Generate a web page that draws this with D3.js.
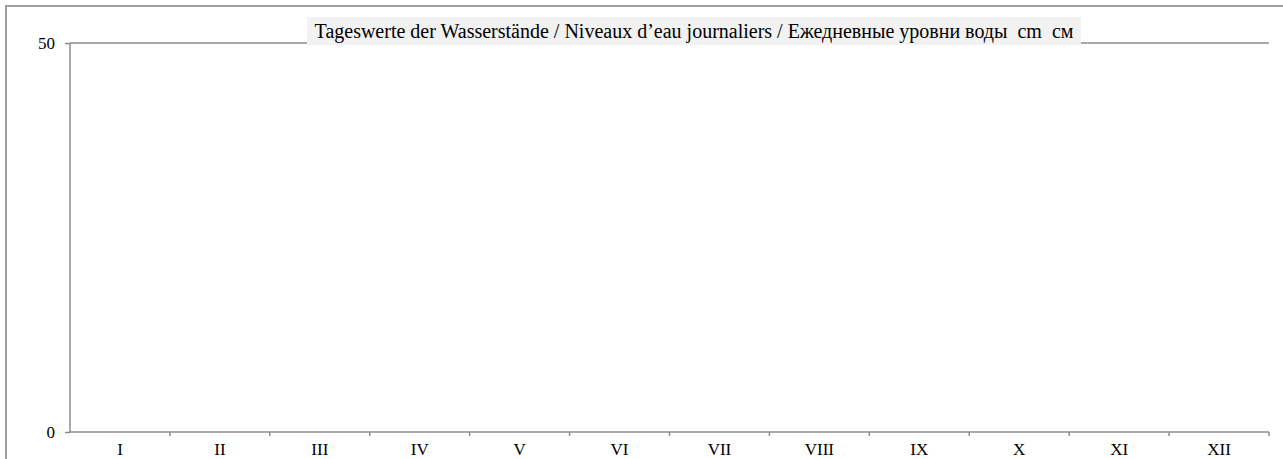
<!DOCTYPE html>
<html><head><meta charset="utf-8">
<script src="https://cdn.jsdelivr.net/npm/d3@7"></script>
<style>
html,body{margin:0;padding:0;background:#fff;}
svg{display:block;font-family:"Liberation Serif","Times New Roman",serif;}
</style></head>
<body>
<svg id="chart" width="1283" height="459"></svg>
<script>
const months = ["I","II","III","IV","V","VI","VII","VIII","IX","X","XI","XII"];
const yTicks = [0, 50];
const yDomain = [0, 50];
const titleText = "Tageswerte der Wasserstände / Niveaux d\u2019eau journaliers / Ежедневные уровни воды  cm  см";
const series = []; // no daily values shown

const svg = d3.select("#chart");
const W = 1283, H = 459;
const m = {left:70, right:1269, top:43, bottom:432};
const FONT = "Liberation Serif, Times New Roman, serif";

// outer frame
svg.append("path")
  .attr("d", `M6,${H+5} L6,6 L${W+5},6`)
  .attr("fill","none").attr("stroke","#a0a0a0").attr("stroke-width",2);

const x = d3.scaleBand().domain(months).range([m.left, m.right]).padding(0);
const y = d3.scaleLinear().domain(yDomain).range([m.bottom, m.top]);

// top grid line at 50
svg.append("g").selectAll("line").data(yTicks.filter(d=>d>0)).join("line")
  .attr("x1", m.left).attr("x2", m.right)
  .attr("y1", d=>y(d)).attr("y2", d=>y(d))
  .attr("stroke","#8c8c8c").attr("stroke-width",1.5);

// y axis
const yAxis = svg.append("g").attr("transform",`translate(${m.left},0)`)
  .call(d3.axisLeft(y).tickValues(yTicks).tickSize(5).tickPadding(10).tickFormat(d3.format("d")));
yAxis.attr("font-family", FONT).attr("font-size", 17);
yAxis.select(".domain").attr("stroke","#8c8c8c").attr("stroke-width",1.5).attr("d",`M0,${m.bottom}V${m.top}`);
yAxis.selectAll(".tick line").attr("stroke","#8c8c8c").attr("stroke-width",1.5);
yAxis.selectAll(".tick text").attr("fill","#000");

// x axis
const xAxis = svg.append("g").attr("transform",`translate(0,${m.bottom})`)
  .call(d3.axisBottom(x).tickSize(0).tickPadding(11));
xAxis.attr("font-family", FONT).attr("font-size", 17);
xAxis.select(".domain").attr("stroke","#8c8c8c").attr("stroke-width",1.5).attr("d",`M${m.left},0H${m.right}`);
xAxis.selectAll(".tick text").attr("fill","#000");
// month boundary ticks
const bounds = months.map(mo => x(mo) + x.bandwidth());
svg.append("g").selectAll("line").data(bounds).join("line")
  .attr("x1", d=>d).attr("x2", d=>d)
  .attr("y1", m.bottom).attr("y2", m.bottom+4)
  .attr("stroke","#8c8c8c").attr("stroke-width",1.5);

// title with background box
const tg = svg.append("g");
tg.append("rect")
  .attr("x", 307).attr("y", 17)
  .attr("width", 1081-307).attr("height", 28)
  .attr("fill","#f2f2f2");
tg.append("text")
  .attr("x", 694).attr("y", 38)
  .attr("text-anchor","middle")
  .attr("font-family", FONT)
  .attr("font-size", 20)
  .style("white-space","pre")
  .attr("fill","#000")
  .text(titleText);
</script>
</body></html>
